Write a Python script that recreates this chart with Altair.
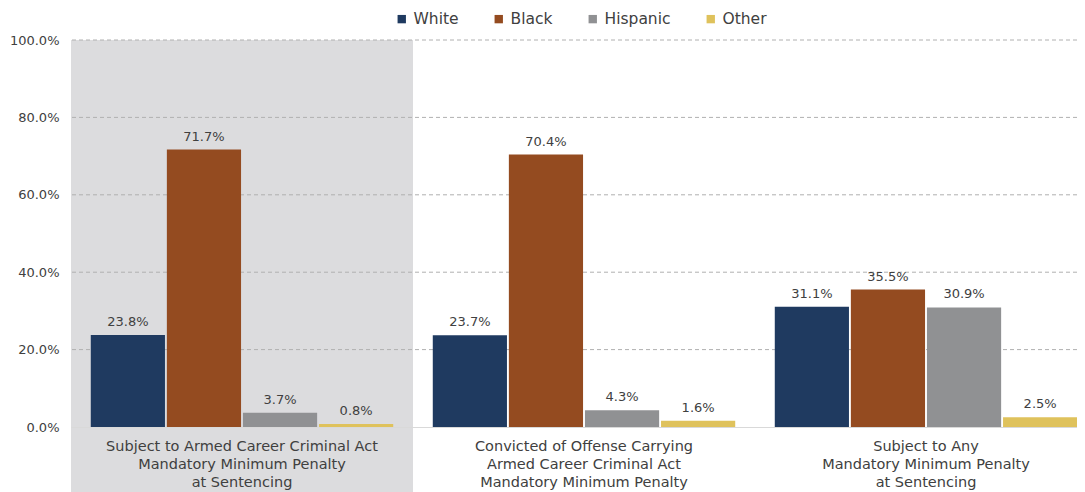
import altair as alt
import pandas as pd

groups = [
    "Subject to Armed Career Criminal Act|Mandatory Minimum Penalty|at Sentencing",
    "Convicted of Offense Carrying|Armed Career Criminal Act|Mandatory Minimum Penalty",
    "Subject to Any|Mandatory Minimum Penalty|at Sentencing",
]
races = ["White", "Black", "Hispanic", "Other"]
white = [23.8, 23.7, 31.1]
black = [71.7, 70.4, 35.5]
hispanic = [3.7, 4.3, 30.9]
other = [0.8, 1.6, 2.5]
colors = ["#1f3a60", "#944b20", "#909193", "#dfc25c"]
y_ticks = [0, 20, 40, 60, 80, 100]
grid_ticks = [20, 40, 60, 80, 100]
highlight = [groups[0]]

rows = []
for race, vals in zip(races, [white, black, hispanic, other]):
    for g, v in zip(groups, vals):
        rows.append({"group": g, "race": race, "value": v})
df = pd.DataFrame(rows)
grid_df = pd.DataFrame({"tick": grid_ticks})
hl_df = pd.DataFrame({"group": highlight})

FONT = "DejaVu Sans"
TXT = "#404040"

x_enc = alt.X(
    "group:N",
    sort=groups,
    title=None,
    scale=alt.Scale(domain=groups, range=[0, 1026], paddingInner=0, paddingOuter=0),
    axis=alt.Axis(
        labelExpr="split(datum.label, '|')",
        labelAngle=0,
        labelFontSize=14.5,
        labelLineHeight=18,
        labelColor=TXT,
        labelFont=FONT,
        labelPadding=12,
        labelLimit=400,
        ticks=False,
        domainColor="#d9d9d9",
        domainWidth=1,
        grid=False,
    ),
)

y_scale = alt.Scale(domain=[0, 100], nice=False)
y_axis = alt.Axis(
    values=y_ticks,
    labelExpr="format(datum.value, '.1f') + '%'",
    labelFontSize=13,
    labelColor=TXT,
    labelFont=FONT,
    labelPadding=12,
    ticks=False,
    domain=False,
    grid=False,
)

xoff = alt.XOffset(
    "race:N",
    sort=races,
    scale=alt.Scale(domain=races, paddingOuter=0.26, paddingInner=0.025),
)

bg = alt.Chart(hl_df).mark_rect(color="#dcdcde").encode(
    x=x_enc,
    y=alt.value(0),
    y2=alt.value(452),
)

grid = alt.Chart(grid_df).mark_rule(color="#b0b0b0", strokeDash=[4, 3], strokeWidth=1).encode(
    y=alt.Y("tick:Q", scale=y_scale, axis=y_axis, title=None),
)

bars = alt.Chart(df).mark_bar().encode(
    x=x_enc,
    xOffset=xoff,
    y=alt.Y("value:Q", scale=y_scale, axis=y_axis, title=None),
    color=alt.Color(
        "race:N",
        sort=races,
        scale=alt.Scale(domain=races, range=colors),
        legend=alt.Legend(
            orient="none",
            legendX=323,
            legendY=-29,
            direction="horizontal",
            columns=4,
            title=None,
            symbolType="square",
            symbolSize=70,
            symbolStrokeWidth=0,
            labelFontSize=15.5,
            labelColor=TXT,
            labelFont=FONT,
            columnPadding=32,
            labelOffset=4,
        ),
    ),
)

labels = alt.Chart(df).transform_calculate(
    label="format(datum.value, '.1f') + '%'"
).mark_text(baseline="bottom", dy=-6, fontSize=13, color=TXT, font=FONT).encode(
    x=x_enc,
    xOffset=xoff,
    y=alt.Y("value:Q", scale=y_scale, axis=y_axis, title=None),
    text="label:N",
)

chart = alt.layer(bg, grid, bars, labels).properties(
    width=1006,
    height=387,
    autosize=alt.AutoSizeParams(type="none"),
    padding={"left": 63, "top": 32, "right": 0, "bottom": 65},
    background="white",
).configure_view(stroke=None)

chart.save("out.html", embed_options={"renderer": "svg", "actions": False})
